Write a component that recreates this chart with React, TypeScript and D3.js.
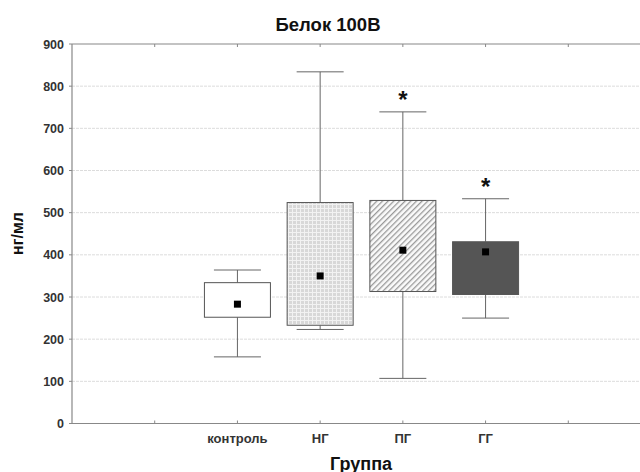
import React from "react";
import * as d3 from "d3";

const categories = ["", "контроль", "НГ", "ПГ", "ГГ", ""];
const groups = ["контроль", "НГ", "ПГ", "ГГ"];
const q1 = [252, 233, 313, 306];
const q3 = [334, 524, 529, 431];
const means = [283, 350, 411, 407];
const whiskerLow = [158, 223, 107, 250];
const whiskerHigh = [364, 834, 739, 533];
const starred = [false, false, true, true];
const yTicks = [0, 100, 200, 300, 400, 500, 600, 700, 800, 900];
const fills = ["#ffffff", "url(#gridPat)", "url(#hatchPat)", "#555555"];

export default function App() {
  const W = 640, H = 472;
  const left = 72, top = 44, bottom = 423.5, right = 651;
  const x = d3.scaleLinear().domain([0, 7]).range([left, right]);
  const y = d3.scaleLinear().domain([0, 900]).range([bottom, top]);
  const boxW = 66;
  const capW = 47;
  const font = "Arial, 'Liberation Sans', sans-serif";

  return (
    <svg width={W} height={H} style={{ position: "absolute", left: 0, top: 0, background: "#fff" }}>
      <defs>
        <pattern id="gridPat" width="4" height="4" patternUnits="userSpaceOnUse">
          <rect width="4" height="4" fill="#d8d8d8" />
          <rect x="0" y="0" width="1" height="4" fill="#f2f2f2" />
          <rect x="0" y="0" width="4" height="1" fill="#f2f2f2" />
        </pattern>
        <pattern id="hatchPat" width="4" height="4" patternUnits="userSpaceOnUse" patternTransform="rotate(45)">
          <rect width="4" height="4" fill="#fafafa" />
          <rect x="0" y="0" width="1.3" height="4" fill="#9a9a9a" />
        </pattern>
      </defs>
      <rect x={0} y={0} width={W} height={H} fill="#fff" />
      {yTicks.filter(t => t > 0 && t < 900).map(t => (
        <line key={"g" + t} x1={left} x2={W} y1={y(t)} y2={y(t)} stroke="#dcdcdc" strokeWidth={1} strokeDasharray="3,1" />
      ))}
      <line x1={left} x2={W} y1={top} y2={top} stroke="#888" strokeWidth={1.2} />
      <line x1={left} x2={W} y1={bottom} y2={bottom} stroke="#888" strokeWidth={1.2} />
      <line x1={left} x2={left} y1={top} y2={bottom} stroke="#888" strokeWidth={1.2} />
      {yTicks.map(t => (
        <g key={"yt" + t}>
          <line x1={left - 3} x2={left} y1={y(t)} y2={y(t)} stroke="#888" />
          <text x={left - 8} y={y(t)} dy="0.36em" textAnchor="end" fontFamily={font} fontSize={12.5} fontWeight={600} fill="#333">{t}</text>
        </g>
      ))}
      {categories.map((c, i) => (
        <g key={"xt" + i}>
          <line x1={x(i + 1)} x2={x(i + 1)} y1={bottom} y2={bottom - 3} stroke="#888" />
          <line x1={x(i + 1)} x2={x(i + 1)} y1={top} y2={top + 3} stroke="#888" />
          {c && (
            <text x={x(i + 1)} y={443} textAnchor="middle" fontFamily={font} fontSize={13} fontWeight={600} fill="#333">{c}</text>
          )}
        </g>
      ))}
      {groups.map((g, i) => {
        const cx = x(i + 2);
        return (
          <g key={"b" + g}>
            <line x1={cx} x2={cx} y1={y(whiskerHigh[i])} y2={y(q3[i])} stroke="#666" />
            <line x1={cx} x2={cx} y1={y(q1[i])} y2={y(whiskerLow[i])} stroke="#666" />
            <line x1={cx - capW / 2} x2={cx + capW / 2} y1={y(whiskerHigh[i])} y2={y(whiskerHigh[i])} stroke="#666" />
            <line x1={cx - capW / 2} x2={cx + capW / 2} y1={y(whiskerLow[i])} y2={y(whiskerLow[i])} stroke="#666" />
            <rect x={cx - boxW / 2} y={y(q3[i])} width={boxW} height={y(q1[i]) - y(q3[i])} fill={fills[i]} stroke="#555" strokeWidth={1} />
            <rect x={cx - 3.5} y={y(means[i]) - 3.5} width={7} height={7} fill="#000" />
            {starred[i] && (
              <text x={cx} y={y(whiskerHigh[i]) - 4} textAnchor="middle" fontFamily={font} fontWeight="bold" fontSize={24} fill="#111">*</text>
            )}
          </g>
        );
      })}
      <text x={328} y={31} textAnchor="middle" fontFamily={font} fontWeight="bold" fontSize={18.5} fill="#111">Белок 100B</text>
      <text x={361} y={469.5} textAnchor="middle" fontFamily={font} fontWeight="bold" fontSize={18} fill="#111">Группа</text>
      <text transform={`translate(23, ${233.5}) rotate(-90)`} textAnchor="middle" fontFamily={font} fontWeight="bold" fontSize={16} fill="#111">нг/мл</text>
    </svg>
  );
}
